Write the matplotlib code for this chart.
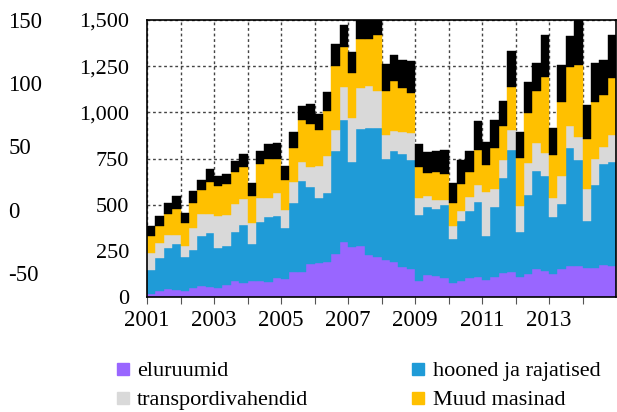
import matplotlib
matplotlib.use('Agg')
import matplotlib.pyplot as plt
from matplotlib.lines import Line2D
import numpy as np

plt.rcParams['font.family'] = ['Liberation Serif', 'DejaVu Serif']
plt.rcParams['axes.unicode_minus'] = False

# quarterly data 2001 Q1 .. 2014 Q4
start_year = 2001
eluruumid = [18, 31, 43, 36, 31, 49, 58, 52, 49, 65, 85, 77, 85, 85,
             83, 104, 95, 133, 133, 178, 184, 189, 232, 297, 270, 275, 227, 214,
             203, 191, 160, 149, 88, 119, 113, 104, 77, 88, 101, 108, 92, 106,
             128, 133, 110, 122, 149, 142, 124, 151, 169, 169, 155, 155, 173, 167]
hooned = [128, 178, 223, 250, 187, 205, 275, 297, 219, 212, 268, 314, 201, 322,
          351, 333, 281, 376, 497, 418, 352, 374, 556, 659, 461, 636, 687, 700,
          542, 599, 612, 591, 358, 369, 366, 393, 236, 324, 365, 407, 237, 382,
          516, 661, 243, 432, 531, 513, 310, 355, 637, 574, 255, 450, 545, 564]
transport = [93, 81, 69, 52, 56, 120, 115, 99, 171, 168, 149, 138, 115, 131,
             102, 126, 97, 114, 101, 108, 171, 198, 117, 183, 237, 221, 231, 204,
             130, 110, 121, 149, 90, 57, 48, 30, 72, 54, 76, 90, 240, 95,
             96, 108, 138, 171, 155, 123, 102, 147, 119, 123, 177, 144, 94, 144]
masinad = [90, 93, 115, 139, 127, 137, 130, 175, 162, 165, 175, 173, 144, 180,
           213, 182, 162, 185, 225, 234, 198, 245, 344, 216, 245, 265, 252, 300,
           243, 268, 237, 214, 168, 128, 150, 141, 126, 148, 135, 189, 144, 223,
           185, 234, 261, 270, 279, 415, 231, 405, 322, 392, 270, 306, 284, 309]
muu = [58, 56, 59, 70, 56, 61, 57, 68, 52, 54, 59, 70, 72, 70,
       77, 90, 74, 88, 81, 108, 87, 103, 119, 117, 112, 163, 163, 122,
       144, 142, 153, 173, 122, 112, 111, 129, 106, 129, 113, 158, 129, 153,
       139, 194, 144, 168, 151, 225, 149, 198, 168, 262, 183, 212, 187, 236]

series = [eluruumid, hooned, transport, masinad, muu]
labels = ['eluruumid', 'hooned ja rajatised', 'transpordivahendid', 'Muud masinad']
colors = ['#9966FF', '#1F9BD7', '#D9D9D9', '#FFC000', '#000000']

x = start_year + np.arange(len(eluruumid)) / 4

fig = plt.figure(figsize=(6.17, 4.12), dpi=100)
ax = fig.add_axes([147 / 617, 1 - 297 / 412, 469 / 617, 277 / 412])

bottom = np.zeros(len(x))
for vals, c in zip(series, colors):
    ax.bar(x, vals, width=0.25, bottom=bottom, align='edge', color=c,
           edgecolor=c, linewidth=0.3, zorder=2)
    bottom += np.array(vals)

ax.set_xlim(2001, 2015)
ax.set_ylim(0, 1500)
ax.set_yticks(np.arange(0, 1501, 250))
ax.set_yticklabels([f'{v:,}' for v in range(0, 1501, 250)])
years = np.arange(2001, 2015)
ax.set_xticks(years)
ax.set_xticklabels([str(y) if y % 2 == 1 else '' for y in years])
ax.grid(True, linestyle=(0, (2, 2)), color='#444444', linewidth=1.0)
ax.set_axisbelow(True)
ax.tick_params(axis='x', direction='out', length=5, color='#555555',
               labelsize=16.5, pad=4)
ax.tick_params(axis='y', length=0, labelsize=16, pad=13)
for s in ax.spines.values():
    s.set_color('black')
    s.set_linewidth(1.2)

# outer left scale
ax2 = ax.twinx()
ax2.set_ylim(-69, 150)
ax2.set_yticks([150, 100, 50, 0, -50])
ax2.yaxis.tick_left()
ax2.tick_params(axis='y', length=0, labelsize=16.5, pad=100)
for lab in ax2.get_yticklabels():
    lab.set_horizontalalignment('left')
for s in ax2.spines.values():
    s.set_visible(False)

# legend filled row by row
order = [0, 2, 1, 3]
handles = [Line2D([], [], marker='s', linestyle='none', markersize=8,
                  color=colors[i]) for i in order]
fig.legend(handles, [labels[i] for i in order], ncol=2, loc='upper left',
           bbox_to_anchor=(106 / 617, 1 - 352 / 412), frameon=False,
           fontsize=16, handlelength=0.7, handletextpad=0.3,
           columnspacing=4.6, labelspacing=0.38, borderaxespad=0)

fig.savefig('out.png', dpi=100)
